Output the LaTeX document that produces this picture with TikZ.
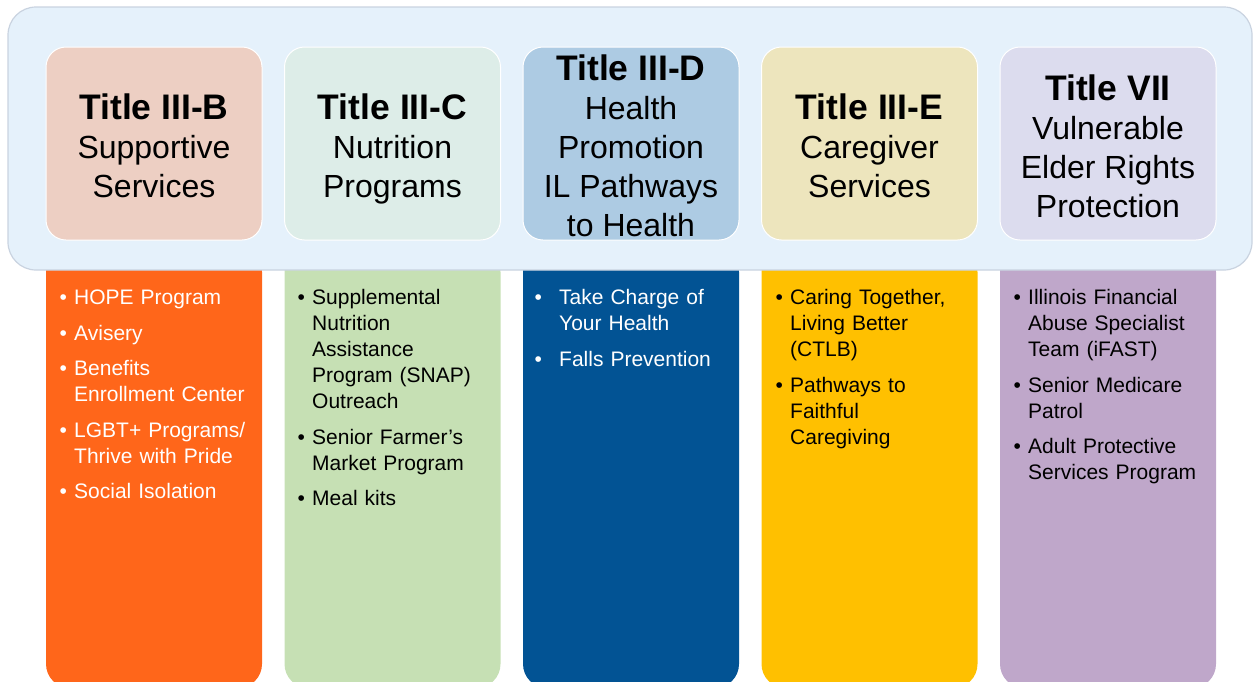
\documentclass[tikz,border=0pt]{standalone}
\usepackage{fontspec}
\setmainfont{Liberation Sans}

\definecolor{panelfill}{HTML}{E5F1FB}
\definecolor{panelline}{HTML}{C9D3E0}
\definecolor{orangecol}{HTML}{FF661A}
\definecolor{greencol}{HTML}{C6E0B4}
\definecolor{bluecol}{HTML}{025394}
\definecolor{yellowcol}{HTML}{FFC000}
\definecolor{purplecol}{HTML}{BFA7CA}
\definecolor{pinktitle}{HTML}{EDCFC3}
\definecolor{minttitle}{HTML}{DDEDE8}
\definecolor{bluetitle}{HTML}{ADCBE3}
\definecolor{yellowtitle}{HTML}{EDE5BD}
\definecolor{lavtitle}{HTML}{DCDCEE}

\newlength{\bulind}
\setlength{\bulind}{14.5pt}
\newcommand{\pitem}[1]{\par\noindent\hangindent=\bulind\hangafter=1\makebox[\bulind][l]{\textbullet}#1\par}
\newcommand{\pgap}{\vspace{9.5pt}}
\newcommand{\ttl}[1]{{\fontsize{35.5}{39}\selectfont\bfseries\strut#1}}

\tikzset{
  titlebox/.style={rectangle, rounded corners=20pt, draw=white, line width=1pt,
    minimum width=216pt, minimum height=193pt, inner sep=0pt},
  titletext/.style={inner sep=0pt, align=center, yshift=-7.5pt,
    font=\fontsize{32}{39}\selectfont},
  listcol/.style={rectangle, rounded corners=24pt, minimum width=216pt,
    minimum height=440pt, inner sep=0pt},
  listtext/.style={anchor=north west, inner sep=0pt, text width=202pt,
    font=\fontsize{21}{26}\selectfont\raggedright}
}

\begin{document}
\begin{tikzpicture}[x=1pt, y=1pt]
\useasboundingbox (0,0) rectangle (1253,-681);
\clip (0,0) rectangle (1253,-681);

% coloured columns
\node[listcol, fill=orangecol] (colB) at (154,-468) {};
\node[listcol, fill=greencol] (colC) at (392.5,-468) {};
\node[listcol, fill=bluecol] (colD) at (631,-468) {};
\node[listcol, fill=yellowcol] (colE) at (869.5,-468) {};
\node[listcol, fill=purplecol] (colVII) at (1108,-468) {};

% light panel
\node[rectangle, rounded corners=28pt, draw=panelline, line width=1.2pt, fill=panelfill,
  minimum width=1244pt, minimum height=263pt] (panel) at (630,-138.5) {};

% titles
\node[titlebox, fill=pinktitle] (tB) at (154,-143.5) {};
\node[titlebox, fill=minttitle] (tC) at (392.5,-143.5) {};
\node[titlebox, fill=bluetitle] (tD) at (631,-143.5) {};
\node[titlebox, fill=yellowtitle] (tE) at (869.5,-143.5) {};
\node[titlebox, fill=lavtitle] (tVII) at (1108,-143.5) {};

\node[titletext] (tBtxt) at (tB) {\ttl{Title III-B}\\Supportive\\Services\strut};
\node[titletext] (tCtxt) at (tC) {\ttl{Title III-C}\\Nutrition\\Programs\strut};
\node[titletext] (tDtxt) at (tD) {\ttl{Title III-D}\\Health\\Promotion\\IL Pathways\\to Health\strut};
\node[titletext] (tEtxt) at (tE) {\ttl{Title III-E}\\Caregiver\\Services\strut};
\node[titletext] (tVIItxt) at (tVII) {\ttl{Title VII}\\Vulnerable\\Elder Rights\\Protection\strut};

% lists
\node[listtext, text=white] (lB) at (59.5,-278.5) {%
  \pitem{HOPE Program}\pgap
  \pitem{Avisery}\pgap
  \pitem{Benefits\newline Enrollment Center}\pgap
  \pitem{LGBT+ Programs/\newline Thrive with Pride}\pgap
  \pitem{Social Isolation}};
\node[listtext] (lC) at (297.5,-278.5) {%
  \pitem{Supplemental\newline Nutrition\newline Assistance\newline Program (SNAP)\newline Outreach}\pgap
  \pitem{Senior Farmer’s\newline Market Program}\pgap
  \pitem{Meal kits}};
\node[listtext, text=white] (lD) at (534.5,-278.5) {\setlength{\bulind}{24.5pt}%
  \pitem{Take Charge of\newline Your Health}\pgap
  \pitem{Falls Prevention}};
\node[listtext] (lE) at (775.5,-278.5) {%
  \pitem{Caring Together,\newline Living Better\newline (CTLB)}\pgap
  \pitem{Pathways to\newline Faithful\newline Caregiving}};
\node[listtext] (lVII) at (1013.5,-278.5) {%
  \pitem{Illinois Financial\newline Abuse Specialist\newline Team (iFAST)}\pgap
  \pitem{Senior Medicare\newline Patrol}\pgap
  \pitem{Adult Protective\newline Services Program}};
\end{tikzpicture}
\end{document}
